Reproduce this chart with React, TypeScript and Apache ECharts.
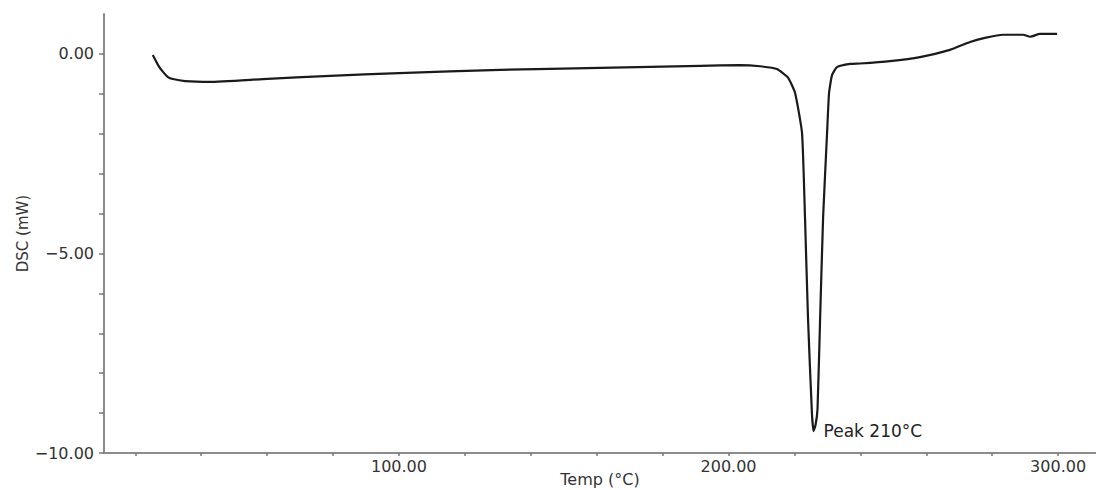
import React, { useEffect, useRef } from "react";
import * as echarts from "echarts";

const temps: number[] = [
  25.3, 26.9, 28.4, 29.9, 31.4, 35.1, 42.6, 58.7, 79.1, 100, 130.7, 161, 191.4, 203.5,
  209.6, 214.7, 218.1, 220.2, 222.3, 223.2, 224.1, 225.3, 225.8, 226.4, 227.0, 227.8, 228.7,
  229.9, 230.5, 231.4, 232.9, 236.9, 239.9, 249, 258.1, 267.2, 273.3, 277.8, 283.3,
  289.4, 291.5, 294.5, 299.7,
];
const dsc: number[] = [
  -0.03, -0.28, -0.45, -0.58, -0.63, -0.68, -0.7, -0.63, -0.55, -0.48, -0.4, -0.35, -0.3, -0.28,
  -0.31, -0.38, -0.6, -0.98, -1.98, -4.09, -6.59, -9.0, -9.45, -9.3, -8.9, -6.59, -4.09,
  -1.98, -0.98, -0.53, -0.33, -0.25, -0.24, -0.18, -0.08, 0.1, 0.3, 0.4, 0.48,
  0.48, 0.43, 0.5, 0.5,
];
const xTickValues: number[] = [20, 40, 60, 80, 100, 120, 140, 160, 180, 200, 220, 240, 260, 280, 300];
const xLabelValues: number[] = [100, 200, 300];
const yTickValues: number[] = [-10, -9, -8, -7, -6, -5, -4, -3, -2, -1, 0];
const yLabelValues: number[] = [-10, -5, 0];
const peakLabel = "Peak 210\u00B0C";
const peakPoint: [number, number] = [225.8, -9.45];

export default function App() {
  const ref = useRef<HTMLDivElement>(null);
  useEffect(() => {
    if (!ref.current) return;
    const chart = echarts.init(ref.current, undefined, { renderer: "svg" });
    const axisColor = "#8c8c8c";
    const font = "DejaVu Sans, Verdana, sans-serif";
    const fmt = (v: number) => v.toFixed(2).replace("-", "\u2212");
    chart.setOption({
      animation: false,
      backgroundColor: "#ffffff",
      grid: { left: 104, right: 0, top: 14, bottom: 37, containLabel: false, outerBoundsMode: "none" },
      xAxis: {
        type: "value",
        min: 10.5,
        max: 311.5,
        name: "Temp (\u00B0C)",
        nameLocation: "middle",
        nameGap: 18,
        nameMoveOverlap: false,
        nameTextStyle: { color: "#333", fontSize: 16, fontFamily: font },
        axisLine: { show: true, onZero: false, lineStyle: { color: axisColor, width: 2 } },
        axisTick: { show: true, customValues: xTickValues, length: 3, lineStyle: { color: "#777", width: 1.5 } },
        axisLabel: {
          customValues: xLabelValues,
          color: "#333",
          fontSize: 16,
          fontFamily: font,
          margin: 5,
          formatter: fmt,
        },
        splitLine: { show: false },
      },
      yAxis: {
        type: "value",
        min: -10,
        max: 1,
        name: "DSC (mW)",
        nameLocation: "middle",
        nameGap: 74,
        nameMoveOverlap: false,
        nameRotate: 90,
        nameTextStyle: { color: "#333", fontSize: 15, fontFamily: font },
        axisLine: { show: true, onZero: false, lineStyle: { color: axisColor, width: 2 } },
        axisTick: { show: true, customValues: yTickValues, length: 5, lineStyle: { color: "#777", width: 1.5 } },
        axisLabel: {
          customValues: yLabelValues,
          color: "#333",
          fontSize: 16,
          fontFamily: font,
          margin: 10,
          formatter: fmt,
        },
        splitLine: { show: false },
      },
      series: [
        {
          type: "line",
          data: temps.map((t, i) => [t, dsc[i]]),
          showSymbol: false,
          smooth: 0.15,
          lineStyle: { color: "#1a1a1a", width: 2.2 },
          markPoint: {
            symbol: "circle",
            symbolSize: 0,
            data: [{ coord: peakPoint }],
            label: {
              show: true,
              position: "right",
              distance: 10,
              formatter: peakLabel,
              color: "#222",
              fontSize: 17,
              fontFamily: font,
            },
          },
        },
      ],
    });
    return () => chart.dispose();
  }, []);
  return (
    <div
      ref={ref}
      style={{ position: "fixed", left: 0, top: 0, width: 1096, height: 490 }}
    />
  );
}
